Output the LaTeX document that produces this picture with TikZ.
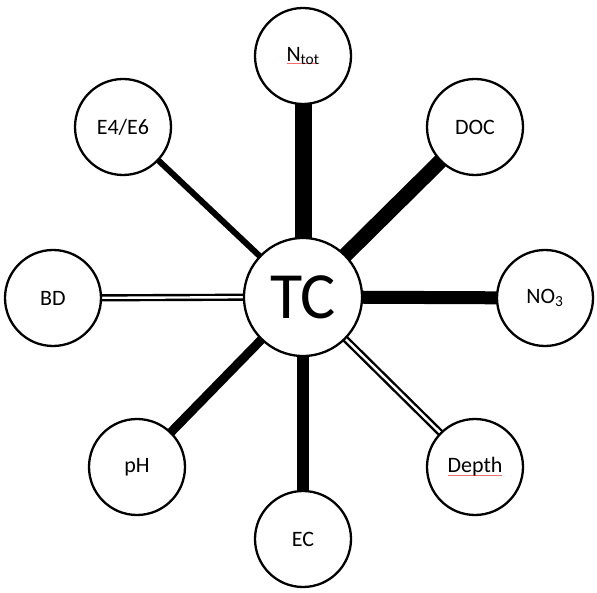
\documentclass[tikz,border=0pt]{standalone}
\usepackage{fontspec}
\setmainfont{Carlito}
\usepackage{tikz}
\usetikzlibrary{backgrounds}
\usetikzlibrary{calc, positioning}

\definecolor{spellred}{RGB}{240,110,110}
\newcommand{\spellmark}[1]{\setbox0\hbox{#1}\rlap{\textcolor{spellred}{\rule[-2.8pt]{\wd0}{1pt}}}\box0}

\tikzset{
  var/.style={circle, draw=black, fill=white, line width=2.3pt, minimum size=96pt, inner sep=0pt, font=\fontsize{22}{26}\selectfont},
  hub/.style={circle, draw=black, fill=white, line width=2.3pt, minimum size=118pt, inner sep=0pt, font=\fontsize{66}{74}\selectfont},
  twin/.style={draw=black, double=white, double distance=2.4pt, line width=2.4pt},
}

\begin{document}
\begin{tikzpicture}[x=1pt, y=-1pt]
          \useasboundingbox (0,0) rectangle (597,593);
          % Centre variable
          \node[hub] (tc) at (303,297) {TC};
          % Surrounding variables
          \node[var] (ntot) at (303,56) {\spellmark{N\textsubscript{tot}}};
          \node[var] (doc) at (475,127) {DOC};
          \node[var] (no3) at (545,298) {NO\textsubscript{3}};
          \node[var] (depth) at (475,467) {\spellmark{Depth}};
          \node[var] (ec) at (303,539) {EC};
          \node[var] (ph) at (137,467) {pH};
          \node[var] (bd) at (53,298) {BD};
          \node[var] (e4e6) at (123,127) {E4/E6};
          % Links, width by strength
          \begin{scope}[on background layer]
            \draw[line width=17pt] (tc.center) -- (ntot.center);
            \draw[line width=15pt] (tc.center) -- (doc.center);
            \draw[line width=13pt] (tc.center) -- (no3.center);
            \draw[line width=12pt] (tc.center) -- (ec.center);
            \draw[line width=9pt] (tc.center) -- (ph.center);
            \draw[line width=6pt] (tc.center) -- (e4e6.center);
            % Double links
            \draw[twin] (tc.center) -- (depth.center);
            \draw[twin] (tc.center) -- (bd.center);
          \end{scope}
        \end{tikzpicture}
\end{document}
